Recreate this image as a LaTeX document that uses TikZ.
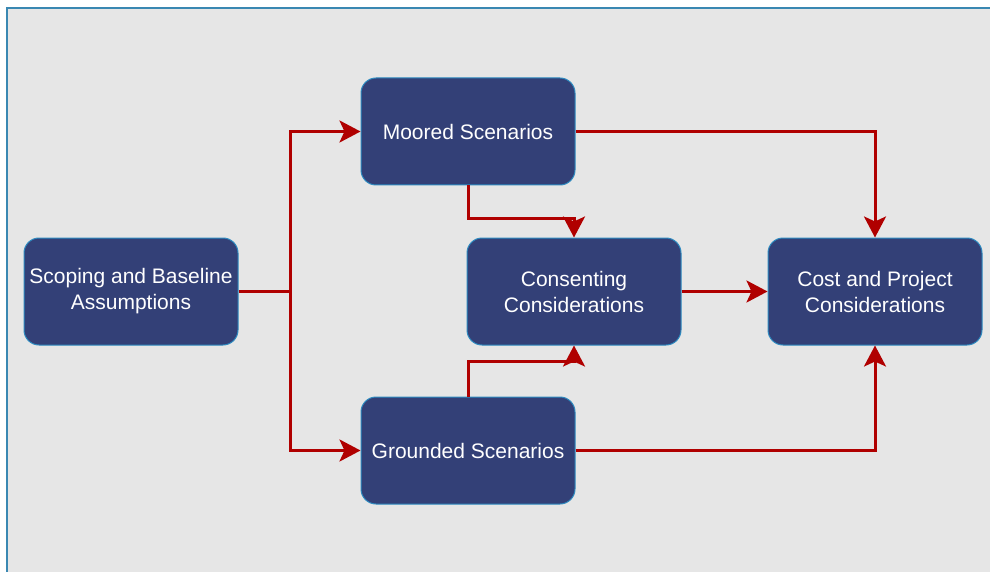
\documentclass[tikz,border=0pt]{standalone}
\usepackage{fontspec}
\setmainfont{Liberation Sans}
\usetikzlibrary{arrows.meta}
\definecolor{boxnavy}{HTML}{334077}
\definecolor{boxedge}{HTML}{2E8BC0}
\definecolor{linkred}{HTML}{B00000}
\definecolor{canvas}{HTML}{E6E6E6}
\definecolor{frameblue}{HTML}{3A88B2}
\begin{document}
\begin{tikzpicture}[x=1pt, y=-1pt,
    stage/.style={draw=boxedge, line width=1pt, fill=boxnavy, text=white,
      rounded corners=15pt, minimum width=214pt, minimum height=107pt,
      align=center, font=\fontsize{21}{26}\selectfont},
    link/.style={draw=linkred, line width=3pt,
      -{Stealth[length=21pt,width=22pt,inset=5pt]}}]
      \useasboundingbox (0,0) rectangle (990,572);
      \fill[canvas] (7,8) rectangle (990,572);
      \draw[frameblue, line width=2.5pt] (7,572) -- (7,8) -- (990,8);
      \node[stage] (scope) at (131,291.5) {Scoping and Baseline\\Assumptions};
      \node[stage] (moored) at (468,131.5) {Moored Scenarios};
      \node[stage] (consent) at (574,291.5) {Consenting\\Considerations};
      \node[stage] (grounded) at (468,450.5) {Grounded Scenarios};
      \node[stage] (cost) at (875,291.5) {Cost and Project\\Considerations};
      \coordinate (split) at (290,291.5);
      \draw[link, -] (scope.east) -- (split);
      \draw[link] (split) |- (moored.west);
      \draw[link] (split) |- (grounded.west);
      \draw[link] (moored.south) -- ++(0,33) -| (consent.north);
      \draw[link] (grounded.north) -- ++(0,-35) -| (consent.south);
      \draw[link] (moored.east) -| (cost.north);
      \draw[link] (grounded.east) -| (cost.south);
      \draw[link] (consent.east) -- (cost.west);
    \end{tikzpicture}
\end{document}
